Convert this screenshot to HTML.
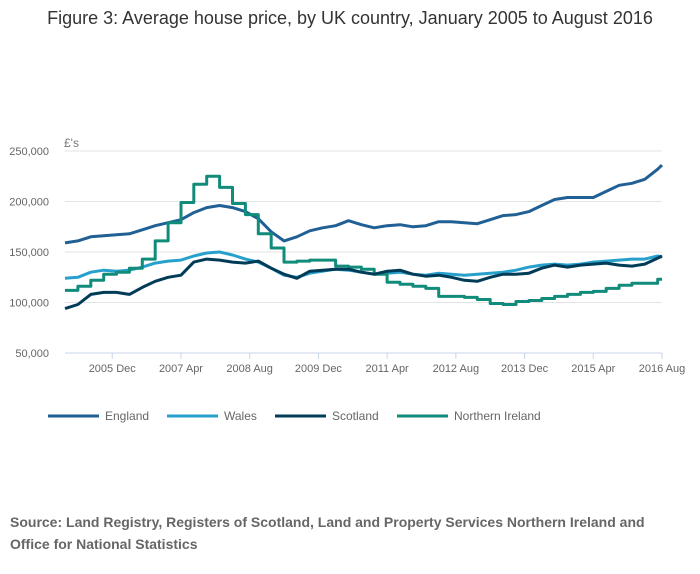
<!DOCTYPE html>
<html><head><meta charset="utf-8"><style>
body{margin:0;background:#fff;font-family:"Liberation Sans",sans-serif;}
#wrap{position:relative;width:700px;height:574px;overflow:hidden;}
</style></head><body>
<div id="wrap">
<svg id="chart" width="700" height="574">
<text x="350" y="24" text-anchor="middle" font-size="18" fill="#333">Figure 3: Average house price, by UK country, January 2005 to August 2016</text>
<text x="64" y="147" font-size="12" fill="#777">£'s</text>
<g id="grid"></g><g id="xaxis"></g><g id="series"></g><g id="legend"></g>
<text x="10" y="527" font-size="14" font-weight="bold" fill="#666">Source: Land Registry, Registers of Scotland, Land and Property Services Northern Ireland and</text>
<text x="10" y="549" font-size="14" font-weight="bold" fill="#666">Office for National Statistics</text>
</svg>
</div>
<script>
const months=[0,3,6,9,12,15,18,21,24,27,30,33,36,39,42,45,48,51,54,57,60,63,66,69,72,75,78,81,84,87,90,93,96,99,102,105,108,111,114,117,120,123,126,129,132,135,138,139];
const england=[159,161,165,166,167,168,172,176,179,182,189,194,196,194,190,183,170,161,165,171,174,176,181,177,174,176,177,175,176,180,180,179,178,182,186,187,190,196,202,204,204,204,210,216,218,222,232,236];
const wales=[124,125,130,132,131,132,135,139,141,142,146,149,150,147,143,140,134,127,125,129,131,133,132,130,128,129,130,128,127,129,128,127,128,129,130,132,135,137,138,137,138,140,141,142,143,143,146,145];
const scotland=[94,98,108,110,110,108,115,121,125,127,140,143,142,140,139,141,134,128,124,131,132,133,133,130,128,131,132,128,126,127,125,122,121,125,128,128,129,134,137,135,137,138,139,137,136,138,144,146];
const niQuarterly=[112,116,122,128,130,134,143,161,179,199,217,225,214,198,187,168,154,140,141,142,142,136,135,133,128,120,118,116,114,106,106,105,103,99,98,101,102,104,106,108,110,111,114,117,119,119,123];
const yTicks=[50000,100000,150000,200000,250000];
const yTickLabels=["50,000","100,000","150,000","200,000","250,000"];
const xTickMonths=[11,27,43,59,75,91,107,123,139];
const xTickLabels=["2005 Dec","2007 Apr","2008 Aug","2009 Dec","2011 Apr","2012 Aug","2013 Dec","2015 Apr","2016 Aug"];
const seriesNames=["England","Wales","Scotland","Northern Ireland"];
const colors=["#206095","#27a0cc","#003c57","#118c7b"];
const NS="http://www.w3.org/2000/svg";
const X=m=>65+m*(597/139);
const Y=v=>353-(v-50000)*(202/200000);
function mk(tag,attrs,parent){const e=document.createElementNS(NS,tag);for(const k in attrs)e.setAttribute(k,attrs[k]);parent.appendChild(e);return e;}
const grid=document.getElementById('grid');
yTicks.forEach((t,i)=>{
 if(i>0){const l=mk('line',{x1:65,x2:662,y1:Y(t),y2:Y(t),stroke:'#e3e3e3','stroke-width':1},grid);
 
 }
 const tx=mk('text',{x:49,y:Y(t)+4,'text-anchor':'end','font-size':11,fill:'#666'},grid);tx.textContent=yTickLabels[i];
 
 
});
const xa=document.getElementById('xaxis');
const ax=mk('line',{x1:65,x2:662,y1:353,y2:353,stroke:'#c9d6e8','stroke-width':1},xa);


xTickMonths.forEach((m,i)=>{
 const tk=mk('line',{x1:X(m),x2:X(m),y1:353,y2:359,stroke:'#c9d6e8'},xa);
 
 
 const tx=mk('text',{x:X(m),y:372,'text-anchor':'middle','font-size':11,fill:'#666'},xa);tx.textContent=xTickLabels[i];
 
 
});
const sg=document.getElementById('series');
function linePath(vals){return vals.map((v,i)=>(i?'L':'M')+X(months[i]).toFixed(1)+','+Y(v*1000).toFixed(1)).join('');}
let niPath='';
niQuarterly.forEach((v,i)=>{const m0=i*3,m1=Math.min(i*3+3,139);niPath+=(i?'L':'M')+X(m0).toFixed(1)+','+Y(v*1000).toFixed(1)+'L'+X(m1).toFixed(1)+','+Y(v*1000).toFixed(1);});
const paths=[linePath(england),linePath(wales),niPath,linePath(scotland)];
const order=[0,1,3,2];
const names=['england-line','wales-line','northern-ireland-line','scotland-line'];
paths.forEach((d,i)=>{
 const p=mk('path',{d:d,fill:'none',stroke:colors[order[i]],'stroke-width':3,'stroke-linejoin':'round'},sg);
 
 
});
const lg=document.getElementById('legend');
const lx=[48,167,275,397];
seriesNames.forEach((n,i)=>{
 const g=mk('g',{},lg);
 
 
 mk('line',{x1:lx[i],x2:lx[i]+51,y1:416,y2:416,stroke:colors[i],'stroke-width':3},g);
 const t=mk('text',{x:lx[i]+57,y:420,'font-size':12,fill:'#666'},g);t.textContent=n;
});
</script>
</body></html>
